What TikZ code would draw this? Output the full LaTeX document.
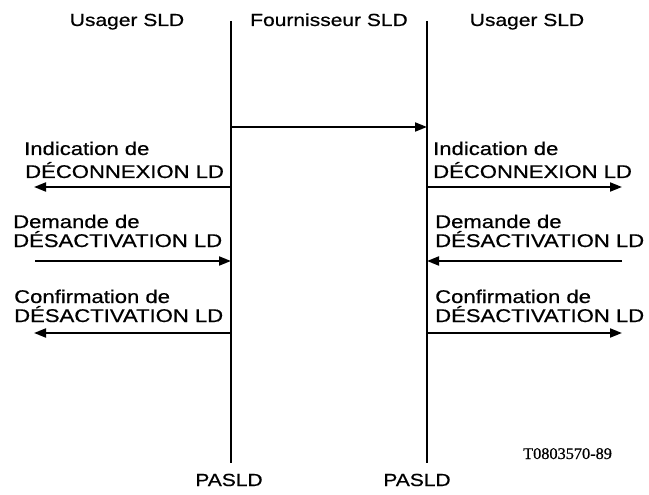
\documentclass[tikz,border=0pt]{standalone}
\usepackage{fontspec}
\setmainfont{Liberation Sans}[FakeStretch=1.2,FakeBold=0.6]
\newfontfamily\refserif{Liberation Serif}[FakeBold=0.6]
\usetikzlibrary{arrows.meta}
\begin{document}
\begin{tikzpicture}[x=1pt,y=-1pt,
  lbl/.style={inner sep=0pt,anchor=base west,font=\fontsize{18.4}{20}\selectfont},
  hdr/.style={inner sep=0pt,anchor=base,font=\fontsize{17.5}{20}\selectfont},
  life/.style={line width=2.4pt},
  msg/.style={line width=1.8pt,-{Triangle[length=12pt,width=9pt]}}]
\useasboundingbox (0,0) rectangle (649,495);
% headers
\node[hdr] (h1) at (127,26) {Usager SLD};
\node[hdr] (h2) at (329,26) {Fournisseur SLD};
\node[hdr] (h3) at (527,26) {Usager SLD};
% lifelines
\coordinate (Lt) at (231,21);
\coordinate (Lb) at (231,463);
\coordinate (Rt) at (427,21);
\coordinate (Rb) at (427,463);
\draw[life] (Lt) -- (Lb);
\draw[life] (Rt) -- (Rb);
\node[hdr] (p1) at (229,486) {PASLD};
\node[hdr] (p2) at (417,486) {PASLD};
\node[inner sep=0pt,anchor=base west,font=\refserif\fontsize{16.3}{18}\selectfont] (ref) at (523,459) {T0803570-89};
% top message
\coordinate (m0a) at (231,127);
\coordinate (m0b) at (427,127);
\draw[msg] (m0a) -- (m0b);
% left labels
\node[lbl] (l1a) at (24,155) {Indication de};
\node[lbl] (l1b) at (25,178) {DÉCONNEXION LD};
\node[lbl] (l2a) at (13,228) {Demande de};
\node[lbl] (l2b) at (13,247) {DÉSACTIVATION LD};
\node[lbl] (l3a) at (14,303) {Confirmation de};
\node[lbl] (l3b) at (14,322) {DÉSACTIVATION LD};
% right labels
\node[lbl] (r1a) at (433,155) {Indication de};
\node[lbl] (r1b) at (433,178) {DÉCONNEXION LD};
\node[lbl] (r2a) at (435,228) {Demande de};
\node[lbl] (r2b) at (435,247) {DÉSACTIVATION LD};
\node[lbl] (r3a) at (435,303) {Confirmation de};
\node[lbl] (r3b) at (435,322) {DÉSACTIVATION LD};
% left arrows
\coordinate (a1l) at (231,187); \coordinate (a1e) at (34,187);
\coordinate (a2l) at (231,261); \coordinate (a2e) at (35,261);
\coordinate (a3l) at (231,333); \coordinate (a3e) at (34,333);
\draw[msg] (a1l) -- (a1e);
\draw[msg] (a2e) -- (a2l);
\draw[msg] (a3l) -- (a3e);
% right arrows
\coordinate (b1r) at (427,187); \coordinate (b1e) at (622,187);
\coordinate (b2r) at (427,261); \coordinate (b2e) at (622,261);
\coordinate (b3r) at (427,333); \coordinate (b3e) at (622,333);
\draw[msg] (b1r) -- (b1e);
\draw[msg] (b2e) -- (b2r);
\draw[msg] (b3r) -- (b3e);
\end{tikzpicture}
\end{document}
